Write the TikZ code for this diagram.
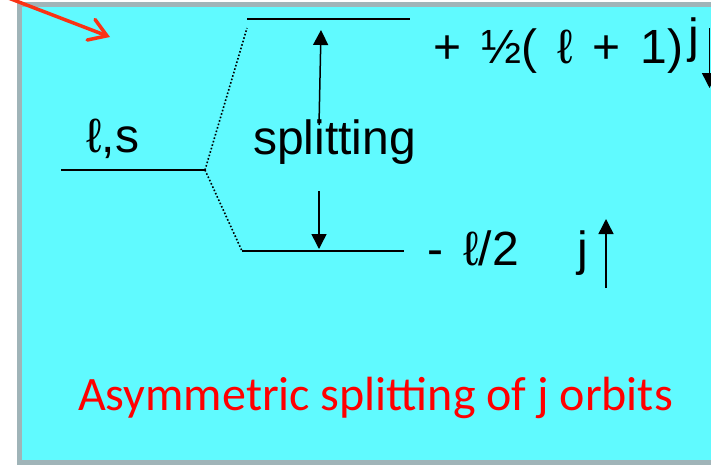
\documentclass[tikz,border=0pt]{standalone}
\usepackage{fontspec}
\setmainfont{Liberation Sans}
\newfontfamily\notefont{Carlito}
\usetikzlibrary{arrows.meta}
\definecolor{BoxCyan}{RGB}{96,250,255}
\definecolor{BoxGray}{RGB}{160,180,184}
\definecolor{NoteRed}{RGB}{255,0,0}
\definecolor{PointRed}{RGB}{250,50,20}
\newcommand\widegap{\spaceskip=20pt\relax}
\tikzset{
	level/.style={draw=black,line width=2pt},
	link/.style={draw=black,line width=1.6pt,dotted},
	split/.style={draw=black,line width=1.5pt,-{Triangle[length=15pt,width=15pt]}},
	lab/.style={inner sep=0pt,anchor=base west,font=\fontsize{48}{56}\selectfont},
}
\begin{document}
\begin{tikzpicture}[x=1pt,y=-1pt]
	\useasboundingbox (0,0) rectangle (711,464);
	\clip (0,0) rectangle (711,464);
	\fill[white] (0,0) rectangle (711,464);
	\draw[BoxGray,fill=BoxCyan,line width=5pt] (19.5,4.5) rectangle (730,462);
	% energy levels
	\coordinate (ls0) at (61,170);   \coordinate (ls1) at (205,170);
	\coordinate (up0) at (247,19);   \coordinate (up1) at (410,19);
	\coordinate (dn0) at (242,251);  \coordinate (dn1) at (404,251);
	\coordinate (uptop) at (247,28);
	\foreach \a/\b in {ls0/ls1,up0/up1,dn0/dn1}
	\draw[level] (\a)--(\b);
	\foreach \b in {uptop,dn0}
	\draw[link] (ls1)--(\b);
	% splitting arrows
	\coordinate (sa0) at (319,125);  \coordinate (sa1) at (321,30);
	\coordinate (sb0) at (319,191);  \coordinate (sb1) at (319,249);
	\coordinate (ja0) at (606,288);  \coordinate (ja1) at (606,219);
	\coordinate (jb0) at (709.5,28); \coordinate (jb1) at (709.5,88);
	\foreach \a/\b in {sa0/sa1,sb0/sb1,ja0/ja1,jb0/jb1}
	\draw[split] (\a)--(\b);
	% labels
	\node[lab] (ls) at (86,152) {ℓ,s};
	\node[lab] (spl) at (253,154) {splitting};
	\node[lab] (hi) at (433,63) {\widegap + ½( ℓ + 1)};
	\node[lab] (jhi) at (688,52) {j};
	\node[lab] (lo) at (427,265) {\widegap - ℓ/2};
	\node[lab] (jlo) at (577,265) {j};
	\node[lab,NoteRed,font=\notefont\fontsize{48}{56}\selectfont] (note) at (78,410) {Asymmetric splitting of j orbits};
	% pointer
	\coordinate (p0) at (-2,-6); \coordinate (p1) at (110,37);
	\draw[PointRed,line width=3.5pt,line cap=round,-{Straight Barb[length=17pt,width=22pt,line cap=round]}] (p0)--(p1);
\end{tikzpicture}
\end{document}
